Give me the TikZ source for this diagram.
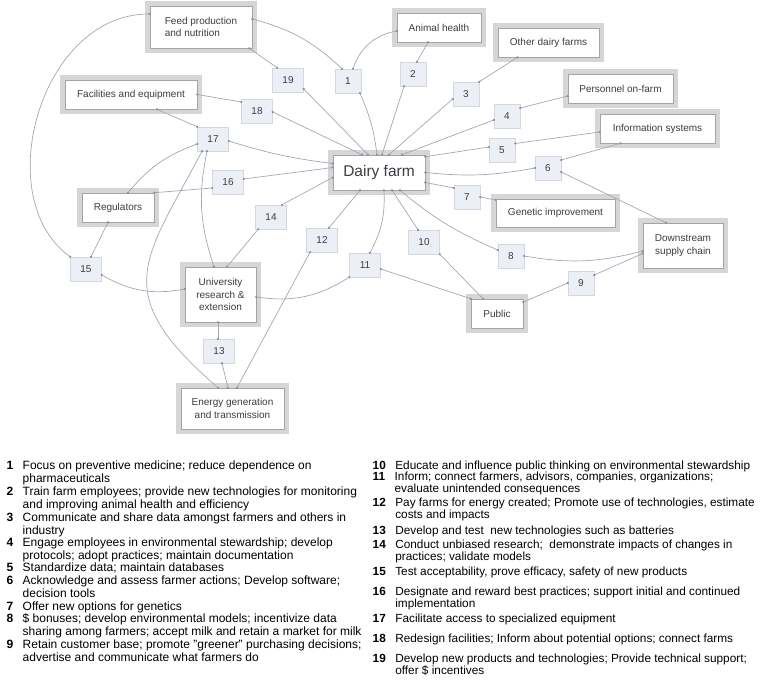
\documentclass[tikz,border=0pt]{standalone}
\usepackage{fontspec}
\setmainfont{Liberation Sans}
\usetikzlibrary{arrows.meta}
\definecolor{framegray}{HTML}{D6D6D6}
\definecolor{boxline}{HTML}{A4A4A4}
\definecolor{numfill}{HTML}{ECEFF5}
\definecolor{numline}{HTML}{D3D7E2}
\definecolor{linkgray}{HTML}{A2A7B8}
\definecolor{dotgray}{HTML}{8A90A2}
\definecolor{inkgray}{HTML}{3C3C44}
\newcommand\legentry[2]{\begin{tabular}[t]{@{}r@{\hspace{9.5pt}}l@{}}\textbf{#1} & #2\end{tabular}}

\begin{document}
\begin{tikzpicture}[x=1pt,y=-1pt,
    link/.style={draw=linkgray,line width=0.7pt,shorten <=-1.1pt,shorten >=-1.1pt,
        arrows={Circle[length=2.2pt,color=dotgray]-Circle[length=2.2pt,color=dotgray]}},
    legleft/.style={anchor=base west,inner sep=0pt,font=\fontsize{12}{12.6}\selectfont},
    legright/.style={anchor=base west,inner sep=0pt,font=\fontsize{11.8}{12.3}\selectfont}]%
        \useasboundingbox (0,0) rectangle (760,689);
        %% actors
        \begin{scope}[shape=rectangle,inner sep=0pt]
        \tikzstyle{every node}=[draw=boxline,fill=white,line width=0.6pt,text=inkgray,align=center,
            font=\fontsize{10}{12.5}\selectfont,preaction={draw=framegray,line width=9.5pt}] %%
        \node[minimum width=102pt,minimum height=42pt,align=left] (feed) at (201,27) {Feed production\\and nutrition}; %%
        \node[minimum width=132pt,minimum height=29pt] (facil) at (131,94.5) {Facilities and equipment}; %%
        \node[minimum width=72pt,minimum height=29pt] (regul) at (118,207.5) {Regulators}; %%
        \node[minimum width=92pt,minimum height=35pt,font=\fontsize{15.5}{18}\selectfont] (dairy) at (379,172.5) {Dairy farm}; %%
        \node[minimum width=84pt,minimum height=29pt] (animal) at (439,27.5) {Animal health}; %%
        \node[minimum width=101pt,minimum height=29pt] (other) at (548.5,42.5) {Other dairy farms}; %%
        \node[minimum width=105pt,minimum height=29pt] (person) at (620.5,88.5) {Personnel on-farm}; %%
        \node[minimum width=115pt,minimum height=29pt] (info) at (657.5,128.5) {Information systems}; %%
        \node[minimum width=119pt,minimum height=28pt] (genetic) at (555.5,213) {Genetic improvement}; %%
        \node[minimum width=80pt,minimum height=45pt] (down) at (683,245.5) {Downstream\\supply chain}; %%
        \node[minimum width=52pt,minimum height=29pt] (public) at (497,313.5) {Public}; %%
        \node[minimum width=71pt,minimum height=55pt] (univ) at (220.5,294.5) {University\\research \&\\extension}; %%
        \node[minimum width=103pt,minimum height=41pt] (energy) at (232.5,408.5) {Energy generation\\and transmission}; %%
        \end{scope}
        %% numbered actions
        \begin{scope}[shape=rectangle,inner sep=0pt]
        \tikzstyle{every node}=[draw=numline,fill=numfill,line width=0.5pt,minimum width=26pt,minimum height=24pt,
            text=inkgray,font=\fontsize{10}{12}\selectfont] %%
        \node (n1) at (348,81) {1}; %%
        \node (n2) at (413,74) {2}; %%
        \node (n3) at (466,94) {3}; %%
        \node (n4) at (507,116) {4}; %%
        \node (n5) at (502,150) {5}; %%
        \node (n6) at (548,168) {6}; %%
        \node (n7) at (467,197) {7}; %%
        \node (n8) at (511,256) {8}; %%
        \node (n9) at (581,283) {9}; %%
        \node[minimum width=31pt] (n10) at (424,242) {10}; %%
        \node[minimum width=31pt] (n11) at (365,265) {11}; %%
        \node[minimum width=31pt] (n12) at (322,240) {12}; %%
        \node[minimum width=31pt] (n13) at (219,351) {13}; %%
        \node[minimum width=31pt] (n14) at (271,217) {14}; %%
        \node[minimum width=31pt] (n15) at (86,269) {15}; %%
        \node[minimum width=31pt] (n16) at (228,182) {16}; %%
        \node[minimum width=31pt] (n17) at (213,139) {17}; %%
        \node[minimum width=31pt] (n18) at (257,111) {18}; %%
        \node[minimum width=31pt] (n19) at (288,80) {19}; %%
        \end{scope}
        %% links
        \draw[link] ([yshift=8pt]feed.east) to[bend left=14] ([xshift=-6pt]n1.north); %%
        \draw[link] ([yshift=-3.5pt]animal.west) to[bend right=30] ([xshift=5pt]n1.north); %%
        \draw[link] ([xshift=12pt]n1.south) to[bend left=8] ([xshift=-2pt]dairy.north); %%
        \draw[link] ([xshift=-11pt]animal.south) -- ([xshift=4pt]n2.north); %%
        \draw[link] ([xshift=-9pt]n2.south) -- ([xshift=3pt]dairy.north); %%
        \draw[link] ([xshift=-31pt]other.south) -- (n3.north east); %%
        \draw[link] ([yshift=-5pt]n3.west) -- ([xshift=10pt]dairy.north); %%
        \draw[link] ([yshift=-7.5pt]person.west) -- ([yshift=8pt]n4.east); %%
        \draw[link] ([yshift=-4pt]n4.west) -- ([xshift=23pt]dairy.north); %%
        \draw[link] ([yshift=-3.5pt]info.west) -- ([yshift=6.5pt]n5.east); %%
        \draw[link] ([yshift=3pt]n5.west) -- ([yshift=-2pt]dairy.north east); %%
        \draw[link] ([xshift=-37pt]info.south) -- ([yshift=8pt]n6.east); %%
        \draw[link] (dairy.east) to[bend right=8] (n6.west); %%
        \draw[link] ([yshift=-4pt]n6.east) -- ([xshift=-17pt]down.north); %%
        \draw[link] ([yshift=-10pt]dairy.east) -- ([yshift=9pt]n7.west); %%
        \draw[link] (n7.east) -- ([yshift=13pt]genetic.west); %%
        \draw[link] ([xshift=21pt]dairy.south) to[bend right=8] ([yshift=6pt]n8.west); %%
        \draw[link] (n8.east) to[bend right=12] ([yshift=-5.5pt]down.west); %%
        \draw[link] ([yshift=-8pt]down.west) -- ([yshift=8pt]n9.east); %%
        \draw[link] (n9.west) -- ([yshift=11.5pt]public.east); %%
        \draw[link] ([xshift=13pt]dairy.south) -- ([xshift=-6pt]n10.north); %%
        \draw[link] (n10.south east) -- ([xshift=-14pt]public.north); %%
        \draw[link] ([xshift=5pt]dairy.south) to[bend left=15] ([xshift=5pt]n11.north); %%
        \draw[link] (n11.south west) to[bend left=20] ([yshift=-2.5pt]univ.east); %%
        \draw[link] ([yshift=-4pt]n11.east) -- (public.north west); %%
        \draw[link] ([xshift=-19pt]dairy.south) -- ([xshift=7pt]n12.north); %%
        \draw[link] ([xshift=-12pt]n12.south) -- ([xshift=4.5pt]energy.north); %%
        \draw[link] ([xshift=-2.5pt]univ.south) -- ([xshift=-1pt]n13.north); %%
        \draw[link] ([xshift=3pt]n13.south) -- ([xshift=-4.5pt]energy.north); %%
        \draw[link] ([yshift=-5pt]dairy.west) -- ([xshift=11pt]n14.north); %%
        \draw[link] ([xshift=3pt]n14.south west) -- ([xshift=6.5pt]univ.north); %%
        \draw[link] ([yshift=13pt]feed.west) .. controls +(-110,0) and +(-81,-58) .. (n15.north west); %%
        \draw[link] ([xshift=-10pt]regul.south) -- ([xshift=5pt]n15.north); %%
        \draw[link] ([yshift=-6pt]n15.east) to[bend right=20] ([yshift=5.5pt]univ.west); %%
        \draw[link] (regul.north east) -- ([yshift=-6pt]n16.west); %%
        \draw[link] ([yshift=3pt]n16.east) -- ([yshift=5pt]dairy.west); %%
        \draw[link] ([xshift=26pt]facil.south) -- (n17.north west); %%
        \draw[link] ([xshift=10pt]regul.north) to[bend left=15] ([yshift=-5pt]n17.west); %%
        \draw[link] ([yshift=-2pt]n17.east) to[bend right=5] ([yshift=9pt]dairy.west); %%
        \draw[link] ([xshift=-6pt]n17.south) to[bend right=15] ([xshift=-6.5pt]univ.north); %%
        \draw[link] ([xshift=-11pt]n17.south) .. controls +(-58,110) and +(-110,-95) .. ([xshift=-14.5pt]energy.north); %%
        \draw[link] (facil.east) -- ([yshift=9pt]n18.west); %%
        \draw[link] ([yshift=-1pt]n18.east) -- ([xshift=-17pt]dairy.north); %%
        \draw[link] ([xshift=-3pt]feed.south east) -- ([xshift=5pt]n19.north west); %%
        \draw[link] ([yshift=-9pt]n19.east) -- ([xshift=-11pt]dairy.north); %%
        %% legend, left column
        \node[legleft] (l1) at (6.3,469.5) {\legentry{1}{Focus on preventive medicine; reduce dependence on\\ & pharmaceuticals}}; %%
        \node[legleft] (l2) at (6.3,495.5) {\legentry{2}{Train farm employees; provide new technologies for monitoring\\ & and improving animal health and efficiency}}; %%
        \node[legleft] (l3) at (6.3,521.5) {\legentry{3}{Communicate and share data amongst farmers and others in\\ & industry}}; %%
        \node[legleft] (l4) at (6.3,546.5) {\legentry{4}{Engage employees in environmental stewardship; develop\\ & protocols; adopt practices; maintain documentation}}; %%
        \node[legleft] (l5) at (6.3,571.5) {\legentry{5}{Standardize data; maintain databases}}; %%
        \node[legleft] (l6) at (6.3,584.5) {\legentry{6}{Acknowledge and assess farmer actions; Develop software;\\ & decision tools}}; %%
        \node[legleft] (l7) at (6.3,610.5) {\legentry{7}{Offer new options for genetics}}; %%
        \node[legleft] (l8) at (6.3,622.5) {\legentry{8}{\$ bonuses; develop environmental models; incentivize data\\ & sharing among farmers; accept milk and retain a market for milk}}; %%
        \node[legleft] (l9) at (6.3,648.5) {\legentry{9}{Retain customer base; promote "greener" purchasing decisions;\\ & advertise and communicate what farmers do}}; %%
        %% legend, right column
        \node[legright] (l10) at (372.5,469.5) {\legentry{10}{Educate and influence public thinking on environmental stewardship}}; %%
        \node[legright] (l11) at (372.5,480.5) {\legentry{11}{Inform; connect farmers, advisors, companies, organizations;\\ & evaluate unintended consequences}}; %%
        \node[legright] (l12) at (372.5,506.5) {\legentry{12}{Pay farms for energy created; Promote use of technologies, estimate\\ & costs and impacts}}; %%
        \node[legright] (l13) at (372.5,534.5) {\legentry{13}{Develop and test\ \ new technologies such as batteries}}; %%
        \node[legright] (l14) at (372.5,548.5) {\legentry{14}{Conduct unbiased research;\ \ demonstrate impacts of changes in\\ & practices; validate models}}; %%
        \node[legright] (l15) at (372.5,575.5) {\legentry{15}{Test acceptability, prove efficacy, safety of new products}}; %%
        \node[legright] (l16) at (372.5,595.5) {\legentry{16}{Designate and reward best practices; support initial and continued\\ & implementation}}; %%
        \node[legright] (l17) at (372.5,622.5) {\legentry{17}{Facilitate access to specialized equipment}}; %%
        \node[legright] (l18) at (372.5,642.5) {\legentry{18}{Redesign facilities; Inform about potential options; connect farms}}; %%
        \node[legright] (l19) at (372.5,662.5) {\legentry{19}{Develop new products and technologies; Provide technical support;\\ & offer \$ incentives}}; %%
        \end{tikzpicture}
\end{document}
